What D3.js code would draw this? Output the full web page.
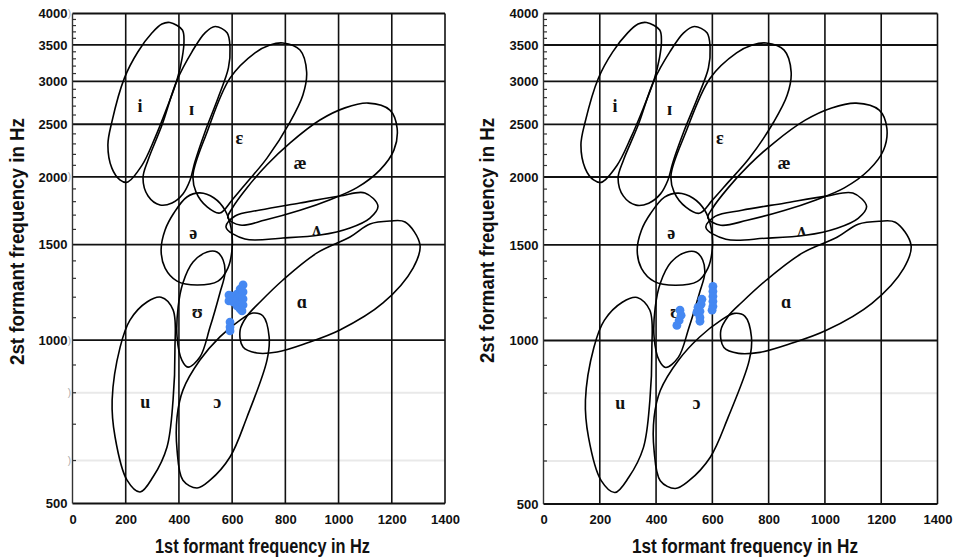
<!DOCTYPE html>
<html><head><meta charset="utf-8">
<script src="https://cdn.jsdelivr.net/npm/d3@7"></script>
<style>body{margin:0;background:#fff}svg{display:block}</style>
</head><body>
<svg id="chart" width="957" height="560"></svg>
<script>
// ---- data ----
const f1Ticks = [0, 200, 400, 600, 800, 1000, 1200, 1400];
const f2Ticks = [500, 1000, 1500, 2000, 2500, 3000, 3500, 4000];
const f2Faint = [600, 800];
const f2Minor = d3.range(600, 4000, 100);
const parenMarks = [4000, 2000, 1000, 800, 600];

const vowelNames = ["i", "ɪ", "ɛ", "æ", "ə", "ʌ", "ʊ", "ɑ", "u", "ɔ"];
const labelF1 = [254, 448, 627, 855, 454, 918, 469, 862, 273, 544];
const labelF2 = [2693, 2656, 2355, 2118, 1574, 1596, 1124, 1174, 766, 766];

// vowel region outlines: [F1, F2]
const outline_i = [[366,3850],[413,3730],[419,3550],[412,3310],[393,3020],[355,2680],[310,2360],[261,2100],[205,1955],[178,1975],[148,2075],[133,2290],[148,2525],[195,3040],[246,3400],[299,3685],[336,3825]];
const outline_I = [[536,3785],[581,3685],[592,3455],[586,3175],[547,2795],[498,2420],[460,2130],[442,1973],[415,1860],[374,1790],[329,1775],[284,1844],[265,1990],[284,2148],[336,2490],[393,3015],[449,3400],[498,3685]];
const outline_eps = [[791,3530],[855,3425],[880,3120],[866,2830],[818,2525],[731,2165],[656,1955],[600,1813],[554,1715],[506,1760],[464,1876],[453,2015],[506,2420],[592,3040],[686,3385],[742,3500]];
const outline_ae = [[584,1680],[600,1750],[656,1910],[731,2105],[818,2310],[930,2545],[1024,2680],[1111,2735],[1193,2655],[1220,2460],[1208,2240],[1156,2060],[1069,1910],[968,1815],[855,1735],[724,1665],[630,1630]];
const outline_schwa = [[479,1868],[532,1828],[573,1737],[596,1610],[600,1479],[584,1358],[547,1285],[468,1264],[393,1285],[348,1358],[333,1466],[348,1596],[381,1715],[430,1836]];
const outline_wedge = [[577,1616],[611,1694],[705,1737],[855,1790],[1005,1844],[1099,1868],[1148,1767],[1118,1679],[1043,1610],[930,1562],[791,1543],[648,1536]];
const outline_U = [[506,1454],[543,1454],[566,1405],[573,1330],[554,1222],[517,1057],[479,931],[434,892],[411,919],[393,1014],[397,1151],[415,1275],[453,1393]];
const outline_a = [[1193,1658],[1250,1651],[1306,1498],[1280,1358],[1167,1171],[1005,1044],[881,988],[769,951],[693,947],[641,971],[630,1044],[656,1108],[705,1176],[791,1291],[919,1448],[1043,1549],[1118,1637]];
const outline_u = [[333,1200],[378,1137],[385,959],[378,776],[355,635],[303,560],[254,525],[205,552],[160,663],[149,776],[179,971],[216,1089],[280,1176]];
const outline_o = [[678,1122],[716,1108],[739,1014],[731,919],[656,722],[592,609],[517,552],[468,534],[415,552],[393,627],[393,722],[415,809],[479,919],[554,1014],[630,1089]];
const outlines = [outline_i, outline_I, outline_eps, outline_ae, outline_schwa, outline_wedge, outline_U, outline_a, outline_u, outline_o];

// measured formant points (blue)
const blobF1Left = [588,588,603,603,618,618,618,630,630,630,630,641,641,641,641,637,592,592,592];
const blobF2Left = [1211,1181,1206,1176,1216,1186,1156,1242,1206,1171,1142,1264,1227,1191,1161,1132,1080,1057,1040];
const blobF1Right = [485,489,482,474, 563,560,549,545,556,556,556, 602,602,602,602,602,599];
const blobF2Right = [1137,1113,1089,1066, 1191,1166,1151,1127,1132,1103,1085, 1258,1232,1206,1181,1156,1137];

const xTitle = "1st formant frequency in Hz";
const yTitle = "2st formant frequency in Hz";

// ---- drawing ----
const svg = d3.select("#chart");
const panels = [
  {x0:72.5, x1:445, yb:503.5, yt:13.5, bf1:blobF1Left, bf2:blobF2Left, paren:true,
   xtX:262.5, xtLen:215, ytX:24, ytY:241.5, ytLen:247},
  {x0:543.5, x1:937.5, yb:504, yt:13.5, bf1:blobF1Right, bf2:blobF2Right, paren:false,
   xtX:745, xtLen:226, ytX:494, ytY:240.5, ytLen:245}
];

const ink = "#111";
panels.forEach(p => {
  const g = svg.append("g");
  const x = d3.scaleLinear().domain([0, 1400]).range([p.x0, p.x1]);
  const y = d3.scaleLog().domain([500, 4000]).range([p.yb, p.yt]);

  g.selectAll(".faint").data(f2Faint).join("line")
    .attr("x1", p.x0).attr("x2", p.x1).attr("y1", d => y(d)).attr("y2", d => y(d))
    .attr("stroke", "#e9e9e9").attr("stroke-width", 2);

  g.selectAll(".minor").data(f2Minor.filter(v => !f2Ticks.includes(v))).join("line")
    .attr("x1", p.x0).attr("x2", p.x0 + 3.5).attr("y1", d => y(d)).attr("y2", d => y(d))
    .attr("stroke", "#333").attr("stroke-width", 1.2);

  g.selectAll(".vg").data(f1Ticks.slice(1)).join("line")
    .attr("x1", d => x(d)).attr("x2", d => x(d)).attr("y1", p.yt).attr("y2", p.yb)
    .attr("stroke", ink).attr("stroke-width", 1.6);
  g.selectAll(".hg").data(f2Ticks).join("line")
    .attr("x1", p.x0).attr("x2", p.x1).attr("y1", d => y(d)).attr("y2", d => y(d))
    .attr("stroke", ink).attr("stroke-width", 1.8);
  g.append("line").attr("x1", p.x0).attr("x2", p.x0).attr("y1", p.yt).attr("y2", p.yb)
    .attr("stroke", "#333").attr("stroke-width", 1.4);

  const ax = g.append("g").attr("transform", `translate(0,${p.yb})`)
    .call(d3.axisBottom(x).tickValues(f1Ticks).tickSize(0).tickPadding(11).tickFormat(d3.format("d")));
  ax.select(".domain").remove();
  ax.selectAll("text").attr("font-family", "Arial, 'Liberation Sans', sans-serif")
    .attr("font-size", 13).attr("font-weight", "bold").attr("fill", ink);

  const ay = g.append("g").attr("transform", `translate(${p.x0},0)`)
    .call(d3.axisLeft(y).tickValues(f2Ticks).tickSize(0).tickPadding(5).tickFormat(d3.format("d")));
  ay.select(".domain").remove();
  ay.selectAll("text").attr("font-family", "Arial, 'Liberation Sans', sans-serif")
    .attr("font-size", 13).attr("font-weight", "bold").attr("fill", ink);

  if (p.paren) {
    g.selectAll(".paren").data(parenMarks).join("text")
      .attr("x", p.x0 - 3).attr("y", d => y(d)).attr("dy", "0.35em")
      .attr("text-anchor", "middle").attr("font-family", "Arial, sans-serif")
      .attr("font-size", 10).attr("fill", "#aaa").text(")");
  }

  const line = d3.line().x(d => x(d[0])).y(d => y(d[1])).curve(d3.curveCatmullRomClosed.alpha(0.5));
  g.selectAll(".ell").data(outlines).join("path")
    .attr("d", line).attr("fill", "none").attr("stroke", "#000").attr("stroke-width", 1.6);

  g.selectAll(".vl").data(vowelNames).join("text")
    .attr("x", (d, i) => x(labelF1[i])).attr("y", (d, i) => y(labelF2[i]))
    .attr("dy", "0.3em").attr("text-anchor", "middle")
    .attr("font-family", "'Liberation Serif', 'DejaVu Serif', serif")
    .attr("font-weight", "bold").attr("font-size", 18).attr("fill", "#111")
    .text(d => d);

  g.selectAll(".pt").data(p.bf1).join("circle")
    .attr("cx", d => x(d)).attr("cy", (d, i) => y(p.bf2[i])).attr("r", 4.4)
    .attr("fill", "#4588f2");

  g.append("text").attr("x", p.xtX).attr("y", 553).attr("text-anchor", "middle")
    .attr("font-family", "Arial, 'Liberation Sans', sans-serif").attr("font-weight", "bold")
    .attr("font-size", 20).attr("fill", ink)
    .attr("textLength", p.xtLen).attr("lengthAdjust", "spacingAndGlyphs").text(xTitle);
  g.append("text").attr("transform", `translate(${p.ytX},${p.ytY}) rotate(-90)`)
    .attr("text-anchor", "middle")
    .attr("font-family", "Arial, 'Liberation Sans', sans-serif").attr("font-weight", "bold")
    .attr("font-size", 20).attr("fill", ink)
    .attr("textLength", p.ytLen).attr("lengthAdjust", "spacingAndGlyphs").text(yTitle);
});
</script>
</body></html>
